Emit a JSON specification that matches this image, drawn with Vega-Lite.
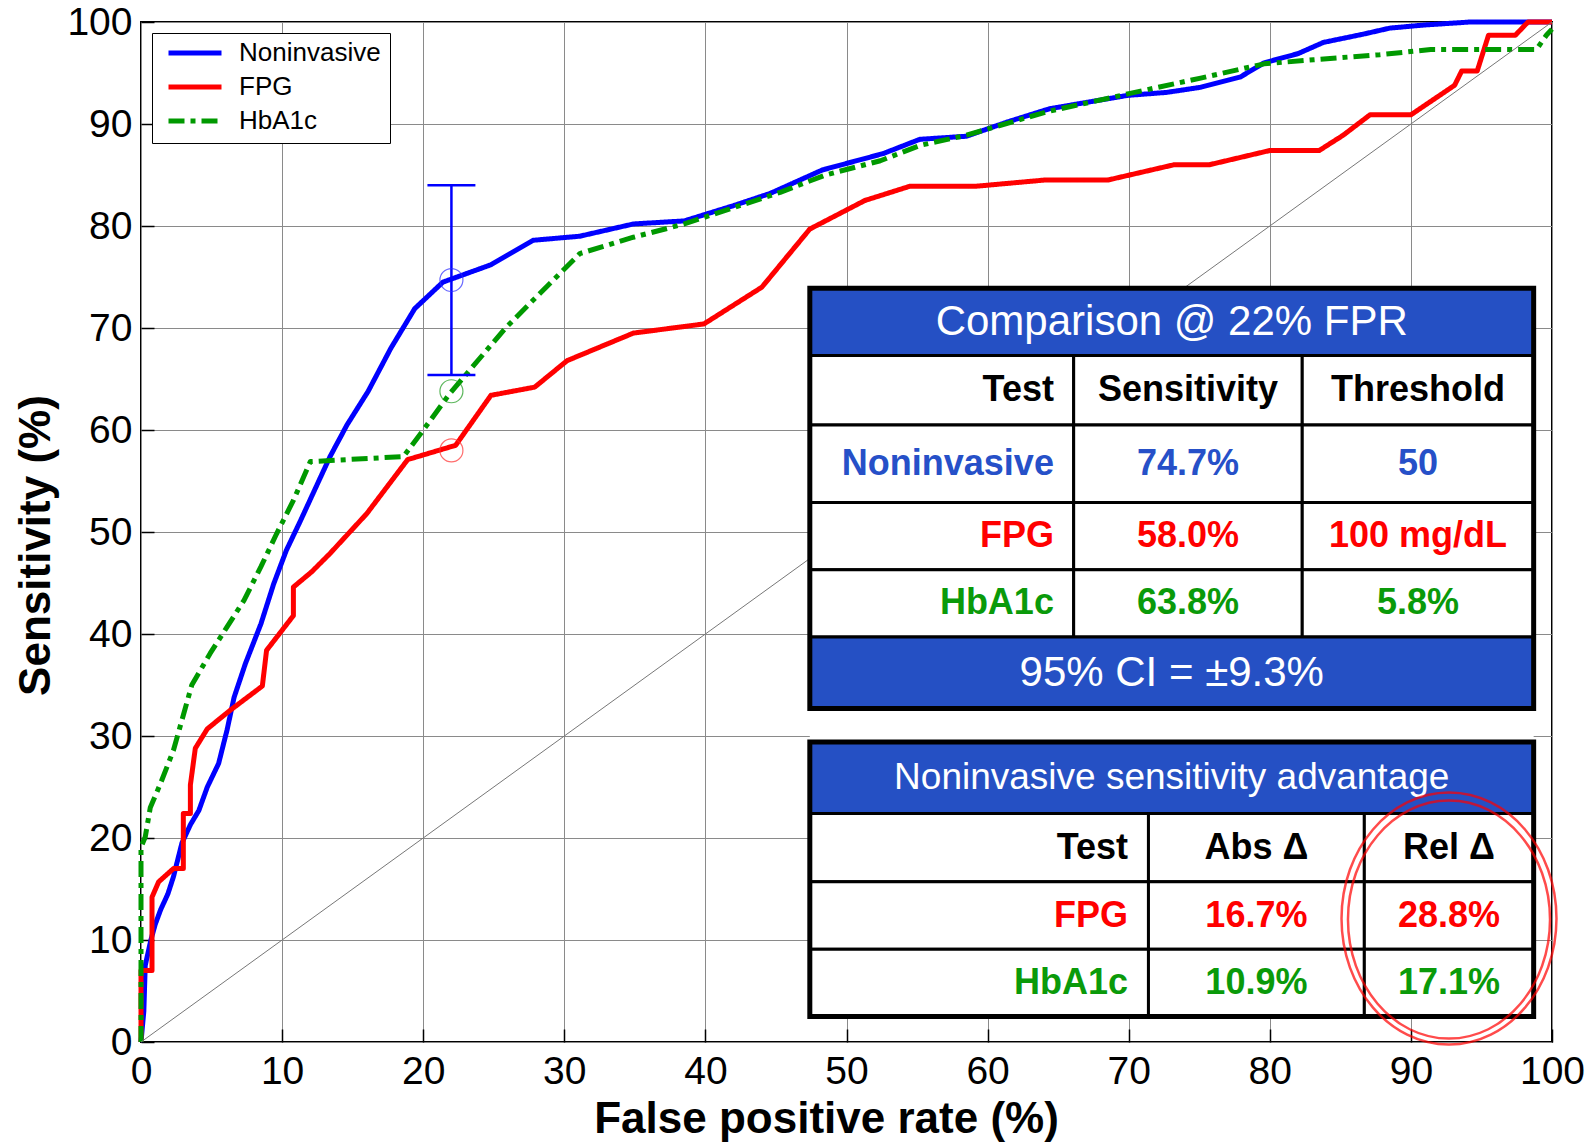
{
 "$schema": "https://vega.github.io/schema/vega-lite/v6.json",
 "width": 1411, "height": 1020,
 "autosize": {"type": "none"},
 "padding": {"left": 141, "top": 22, "right": 41, "bottom": 100},
 "background": "white",
 "config": {
  "font": "Liberation Sans",
  "view": {"stroke": "black", "strokeWidth": 2},
  "axis": {"grid": true, "gridColor": "#8a8a8a", "gridWidth": 1, "gridOpacity": 1, "domain": false, "ticks": true, "tickSize": -13, "tickColor": "black", "tickWidth": 1.5, "labelFontSize": 39, "labelColor": "black", "labelFlush": false, "labelOverlap": false, "titleFontSize": 44, "titleFontWeight": "bold", "titleColor": "black"},
  "axisX": {"labelPadding": 23, "labelDx": 3, "titleX": 685, "titleY": 90, "titleBaseline": "alphabetic"},
  "axisY": {"labelPadding": 22, "titleX": -105, "titleY": 523, "titleBaseline": "middle"}
 },
 "datasets": {
  "roc": [
   {"test":"Noninvasive","i":0,"fpr":0,"sens":0},{"test":"Noninvasive","i":1,"fpr":0.2,"sens":3},{"test":"Noninvasive","i":2,"fpr":0.3,"sens":7.5},{"test":"Noninvasive","i":3,"fpr":0.7,"sens":10},{"test":"Noninvasive","i":4,"fpr":1.0,"sens":11.5},{"test":"Noninvasive","i":5,"fpr":1.4,"sens":13},{"test":"Noninvasive","i":6,"fpr":1.9,"sens":14.5},{"test":"Noninvasive","i":7,"fpr":2.3,"sens":16.2},{"test":"Noninvasive","i":8,"fpr":2.9,"sens":19.5},{"test":"Noninvasive","i":9,"fpr":3.5,"sens":21.3},{"test":"Noninvasive","i":10,"fpr":4.1,"sens":22.7},{"test":"Noninvasive","i":11,"fpr":4.7,"sens":25},{"test":"Noninvasive","i":12,"fpr":5.5,"sens":27.3},{"test":"Noninvasive","i":13,"fpr":6.1,"sens":30.6},{"test":"Noninvasive","i":14,"fpr":6.6,"sens":33.8},{"test":"Noninvasive","i":15,"fpr":7.4,"sens":37.1},{"test":"Noninvasive","i":16,"fpr":8.5,"sens":41},{"test":"Noninvasive","i":17,"fpr":9.4,"sens":44.9},{"test":"Noninvasive","i":18,"fpr":10.3,"sens":48.2},{"test":"Noninvasive","i":19,"fpr":11.3,"sens":51.1},{"test":"Noninvasive","i":20,"fpr":12.5,"sens":54.7},{"test":"Noninvasive","i":21,"fpr":13.4,"sens":57.4},{"test":"Noninvasive","i":22,"fpr":14.6,"sens":60.5},{"test":"Noninvasive","i":23,"fpr":16.1,"sens":63.8},{"test":"Noninvasive","i":24,"fpr":17.7,"sens":68},{"test":"Noninvasive","i":25,"fpr":19.4,"sens":71.9},{"test":"Noninvasive","i":26,"fpr":21.4,"sens":74.5},{"test":"Noninvasive","i":27,"fpr":24.8,"sens":76.2},{"test":"Noninvasive","i":28,"fpr":27.8,"sens":78.6},{"test":"Noninvasive","i":29,"fpr":31.1,"sens":79.0},{"test":"Noninvasive","i":30,"fpr":34.9,"sens":80.2},{"test":"Noninvasive","i":31,"fpr":38.5,"sens":80.5},{"test":"Noninvasive","i":32,"fpr":42.0,"sens":82.0},{"test":"Noninvasive","i":33,"fpr":44.6,"sens":83.2},{"test":"Noninvasive","i":34,"fpr":48.3,"sens":85.5},{"test":"Noninvasive","i":35,"fpr":52.6,"sens":87.1},{"test":"Noninvasive","i":36,"fpr":55.2,"sens":88.5},{"test":"Noninvasive","i":37,"fpr":58.5,"sens":88.8},{"test":"Noninvasive","i":38,"fpr":61.4,"sens":90.2},{"test":"Noninvasive","i":39,"fpr":64.4,"sens":91.5},{"test":"Noninvasive","i":40,"fpr":69.9,"sens":92.8},{"test":"Noninvasive","i":41,"fpr":72.7,"sens":93.1},{"test":"Noninvasive","i":42,"fpr":75.1,"sens":93.6},{"test":"Noninvasive","i":43,"fpr":77.9,"sens":94.6},{"test":"Noninvasive","i":44,"fpr":79.6,"sens":96.0},{"test":"Noninvasive","i":45,"fpr":82.0,"sens":96.9},{"test":"Noninvasive","i":46,"fpr":83.8,"sens":98.0},{"test":"Noninvasive","i":47,"fpr":86.6,"sens":98.8},{"test":"Noninvasive","i":48,"fpr":88.5,"sens":99.4},{"test":"Noninvasive","i":49,"fpr":90.9,"sens":99.7},{"test":"Noninvasive","i":50,"fpr":94.2,"sens":100},{"test":"Noninvasive","i":51,"fpr":100,"sens":100},
   {"test":"FPG","i":0,"fpr":0,"sens":0},{"test":"FPG","i":1,"fpr":0,"sens":7.0},{"test":"FPG","i":2,"fpr":0.78,"sens":7.0},{"test":"FPG","i":3,"fpr":0.78,"sens":14.2},{"test":"FPG","i":4,"fpr":1.25,"sens":15.7},{"test":"FPG","i":5,"fpr":2.3,"sens":17.0},{"test":"FPG","i":6,"fpr":3.0,"sens":17.0},{"test":"FPG","i":7,"fpr":3.0,"sens":22.4},{"test":"FPG","i":8,"fpr":3.5,"sens":22.4},{"test":"FPG","i":9,"fpr":3.5,"sens":25.2},{"test":"FPG","i":10,"fpr":3.85,"sens":28.8},{"test":"FPG","i":11,"fpr":4.7,"sens":30.7},{"test":"FPG","i":12,"fpr":6.3,"sens":32.5},{"test":"FPG","i":13,"fpr":8.6,"sens":34.9},{"test":"FPG","i":14,"fpr":8.9,"sens":38.4},{"test":"FPG","i":15,"fpr":10.8,"sens":41.8},{"test":"FPG","i":16,"fpr":10.8,"sens":44.6},{"test":"FPG","i":17,"fpr":12.1,"sens":46.1},{"test":"FPG","i":18,"fpr":13.4,"sens":47.9},{"test":"FPG","i":19,"fpr":16.0,"sens":51.8},{"test":"FPG","i":20,"fpr":18.9,"sens":57.1},{"test":"FPG","i":21,"fpr":22.3,"sens":58.5},{"test":"FPG","i":22,"fpr":24.8,"sens":63.4},{"test":"FPG","i":23,"fpr":27.9,"sens":64.2},{"test":"FPG","i":24,"fpr":30.2,"sens":66.8},{"test":"FPG","i":25,"fpr":34.9,"sens":69.5},{"test":"FPG","i":26,"fpr":39.9,"sens":70.4},{"test":"FPG","i":27,"fpr":44.0,"sens":74.0},{"test":"FPG","i":28,"fpr":47.4,"sens":79.7},{"test":"FPG","i":29,"fpr":51.3,"sens":82.5},{"test":"FPG","i":30,"fpr":54.5,"sens":83.9},{"test":"FPG","i":31,"fpr":59.2,"sens":83.9},{"test":"FPG","i":32,"fpr":64.0,"sens":84.5},{"test":"FPG","i":33,"fpr":68.5,"sens":84.5},{"test":"FPG","i":34,"fpr":73.2,"sens":86.0},{"test":"FPG","i":35,"fpr":75.7,"sens":86.0},{"test":"FPG","i":36,"fpr":80.0,"sens":87.4},{"test":"FPG","i":37,"fpr":83.5,"sens":87.4},{"test":"FPG","i":38,"fpr":85.2,"sens":88.9},{"test":"FPG","i":39,"fpr":87.1,"sens":90.9},{"test":"FPG","i":40,"fpr":90.0,"sens":90.9},{"test":"FPG","i":41,"fpr":93.1,"sens":93.8},{"test":"FPG","i":42,"fpr":93.6,"sens":95.2},{"test":"FPG","i":43,"fpr":94.7,"sens":95.2},{"test":"FPG","i":44,"fpr":95.5,"sens":98.7},{"test":"FPG","i":45,"fpr":97.4,"sens":98.7},{"test":"FPG","i":46,"fpr":98.3,"sens":100},{"test":"FPG","i":47,"fpr":100,"sens":100},
   {"test":"HbA1c","i":0,"fpr":0,"sens":0},{"test":"HbA1c","i":1,"fpr":0,"sens":19.1},{"test":"HbA1c","i":2,"fpr":0.3,"sens":20.1},{"test":"HbA1c","i":3,"fpr":0.66,"sens":23},{"test":"HbA1c","i":4,"fpr":1.37,"sens":25.3},{"test":"HbA1c","i":5,"fpr":2.3,"sens":28.6},{"test":"HbA1c","i":6,"fpr":3.6,"sens":35},{"test":"HbA1c","i":7,"fpr":4.9,"sens":38.1},{"test":"HbA1c","i":8,"fpr":6.1,"sens":40.7},{"test":"HbA1c","i":9,"fpr":7.3,"sens":43.3},{"test":"HbA1c","i":10,"fpr":8.5,"sens":46.6},{"test":"HbA1c","i":11,"fpr":9.6,"sens":49.8},{"test":"HbA1c","i":12,"fpr":10.8,"sens":53.1},{"test":"HbA1c","i":13,"fpr":12.0,"sens":56.9},{"test":"HbA1c","i":14,"fpr":18.6,"sens":57.4},{"test":"HbA1c","i":15,"fpr":19.8,"sens":59.6},{"test":"HbA1c","i":16,"fpr":21.9,"sens":63.6},{"test":"HbA1c","i":17,"fpr":25.9,"sens":70.1},{"test":"HbA1c","i":18,"fpr":31.1,"sens":77.3},{"test":"HbA1c","i":19,"fpr":34.9,"sens":78.9},{"test":"HbA1c","i":20,"fpr":38.5,"sens":80.2},{"test":"HbA1c","i":21,"fpr":42.0,"sens":81.8},{"test":"HbA1c","i":22,"fpr":45.3,"sens":83.3},{"test":"HbA1c","i":23,"fpr":48.5,"sens":85.0},{"test":"HbA1c","i":24,"fpr":52.4,"sens":86.4},{"test":"HbA1c","i":25,"fpr":55.2,"sens":87.9},{"test":"HbA1c","i":26,"fpr":58.5,"sens":88.9},{"test":"HbA1c","i":27,"fpr":64.2,"sens":91.2},{"test":"HbA1c","i":28,"fpr":70.1,"sens":93.0},{"test":"HbA1c","i":29,"fpr":75.1,"sens":94.5},{"test":"HbA1c","i":30,"fpr":79.6,"sens":95.9},{"test":"HbA1c","i":31,"fpr":83.1,"sens":96.3},{"test":"HbA1c","i":32,"fpr":87.8,"sens":96.8},{"test":"HbA1c","i":33,"fpr":91.4,"sens":97.3},{"test":"HbA1c","i":34,"fpr":98.9,"sens":97.3},{"test":"HbA1c","i":35,"fpr":99.6,"sens":98.7},{"test":"HbA1c","i":36,"fpr":100,"sens":99.3}
  ],
  "diag": [{"d":0},{"d":100}],
  "marks22": [
   {"test":"Noninvasive","fpr":22,"sens":74.7},
   {"test":"FPG","fpr":22,"sens":58.0},
   {"test":"HbA1c","fpr":22,"sens":63.8}
  ],
  "ci": [{"fpr":22,"lo":65.4,"hi":84.0,"c1":20.3,"c2":23.7}],
  "cells": [
   {"kind":"bg","x1":47.4,"x2":98.7,"y1":2.5,"y2":73.9},
   {"kind":"cell","x1":47.4,"x2":66.1,"y1":60.5,"y2":67.3},{"kind":"cell","x1":66.1,"x2":82.3,"y1":60.5,"y2":67.3},{"kind":"cell","x1":82.3,"x2":98.7,"y1":60.5,"y2":67.3},
   {"kind":"cell","x1":47.4,"x2":66.1,"y1":52.9,"y2":60.5},{"kind":"cell","x1":66.1,"x2":82.3,"y1":52.9,"y2":60.5},{"kind":"cell","x1":82.3,"x2":98.7,"y1":52.9,"y2":60.5},
   {"kind":"cell","x1":47.4,"x2":66.1,"y1":46.3,"y2":52.9},{"kind":"cell","x1":66.1,"x2":82.3,"y1":46.3,"y2":52.9},{"kind":"cell","x1":82.3,"x2":98.7,"y1":46.3,"y2":52.9},
   {"kind":"cell","x1":47.4,"x2":66.1,"y1":39.7,"y2":46.3},{"kind":"cell","x1":66.1,"x2":82.3,"y1":39.7,"y2":46.3},{"kind":"cell","x1":82.3,"x2":98.7,"y1":39.7,"y2":46.3},
   {"kind":"cell","x1":47.4,"x2":71.4,"y1":15.7,"y2":22.4},{"kind":"cell","x1":71.4,"x2":86.7,"y1":15.7,"y2":22.4},{"kind":"cell","x1":86.7,"x2":98.7,"y1":15.7,"y2":22.4},
   {"kind":"cell","x1":47.4,"x2":71.4,"y1":9.1,"y2":15.7},{"kind":"cell","x1":71.4,"x2":86.7,"y1":9.1,"y2":15.7},{"kind":"cell","x1":86.7,"x2":98.7,"y1":9.1,"y2":15.7},
   {"kind":"cell","x1":47.4,"x2":71.4,"y1":2.5,"y2":9.1},{"kind":"cell","x1":71.4,"x2":86.7,"y1":2.5,"y2":9.1},{"kind":"cell","x1":86.7,"x2":98.7,"y1":2.5,"y2":9.1},
   {"kind":"band","x1":47.4,"x2":98.7,"y1":67.3,"y2":73.9},
   {"kind":"band","x1":47.4,"x2":98.7,"y1":32.7,"y2":39.7},
   {"kind":"band","x1":47.4,"x2":98.7,"y1":22.4,"y2":29.4},
   {"kind":"border","x1":47.4,"x2":98.7,"y1":32.7,"y2":73.9},
   {"kind":"border","x1":47.4,"x2":98.7,"y1":2.5,"y2":29.4}
  ],
  "labels": [
   {"kind":"title1","tone":"title","x":73.05,"y":70.6,"t":"Comparison @ 22% FPR"},
   {"kind":"title1","tone":"title","x":73.05,"y":36.2,"t":"95% CI = ±9.3%"},
   {"kind":"title2","tone":"title","x":73.05,"y":25.9,"t":"Noninvasive sensitivity advantage"},
   {"kind":"right","tone":"header","x":64.7,"y":63.9,"t":"Test"},
   {"kind":"center","tone":"header","x":74.2,"y":63.9,"t":"Sensitivity"},
   {"kind":"center","tone":"header","x":90.5,"y":63.9,"t":"Threshold"},
   {"kind":"right","tone":"Noninvasive","x":64.7,"y":56.7,"t":"Noninvasive"},
   {"kind":"center","tone":"Noninvasive","x":74.2,"y":56.7,"t":"74.7%"},
   {"kind":"center","tone":"Noninvasive","x":90.5,"y":56.7,"t":"50"},
   {"kind":"right","tone":"FPG","x":64.7,"y":49.6,"t":"FPG"},
   {"kind":"center","tone":"FPG","x":74.2,"y":49.6,"t":"58.0%"},
   {"kind":"center","tone":"FPG","x":90.5,"y":49.6,"t":"100 mg/dL"},
   {"kind":"right","tone":"HbA1c","x":64.7,"y":43.0,"t":"HbA1c"},
   {"kind":"center","tone":"HbA1c","x":74.2,"y":43.0,"t":"63.8%"},
   {"kind":"center","tone":"HbA1c","x":90.5,"y":43.0,"t":"5.8%"},
   {"kind":"right","tone":"header","x":69.95,"y":19.05,"t":"Test"},
   {"kind":"center","tone":"header","x":79.05,"y":19.05,"t":"Abs Δ"},
   {"kind":"center","tone":"header","x":92.7,"y":19.05,"t":"Rel Δ"},
   {"kind":"right","tone":"FPG","x":69.95,"y":12.4,"t":"FPG"},
   {"kind":"center","tone":"FPG","x":79.05,"y":12.4,"t":"16.7%"},
   {"kind":"center","tone":"FPG","x":92.7,"y":12.4,"t":"28.8%"},
   {"kind":"right","tone":"HbA1c","x":69.95,"y":5.8,"t":"HbA1c"},
   {"kind":"center","tone":"HbA1c","x":79.05,"y":5.8,"t":"10.9%"},
   {"kind":"center","tone":"HbA1c","x":92.7,"y":5.8,"t":"17.1%"}
  ],
  "rings": [{"ring":"outer","x":92.7,"y":12.1},{"ring":"inner","x":92.7,"y":12.0}]
 },
 "layer": [
  {
   "data": {"name": "roc"},
   "mark": {"type": "line", "strokeWidth": 5, "strokeJoin": "round", "strokeCap": "butt"},
   "encoding": {
    "x": {"field": "fpr", "type": "quantitative", "scale": {"domain": [0, 100], "nice": false, "zero": false},
      "axis": {"title": "False positive rate (%)", "values": [0,10,20,30,40,50,60,70,80,90,100]}},
    "y": {"field": "sens", "type": "quantitative", "scale": {"domain": [0, 100], "nice": false, "zero": false},
      "axis": {"title": "Sensitivity (%)", "values": [0,10,20,30,40,50,60,70,80,90,100]}},
    "order": {"field": "i", "type": "quantitative"},
    "color": {"field": "test", "type": "nominal",
      "scale": {"domain": ["Noninvasive", "FPG", "HbA1c"], "range": ["#0000FF", "#FF0000", "#009900"]},
      "legend": {"title": null, "orient": "none", "legendX": 11, "legendY": 11, "strokeColor": "black", "fillColor": "white", "padding": 9, "labelFontSize": 26, "labelColor": "black", "labelExpr": "datum.label + '\u00a0\u00a0\u00a0'", "symbolSize": 2809, "symbolStrokeWidth": 5, "symbolType": "stroke", "symbolOffset": 5, "labelOffset": 15, "clipHeight": 22, "rowPadding": 8}},
    "strokeDash": {"field": "test", "type": "nominal",
      "scale": {"domain": ["Noninvasive", "FPG", "HbA1c"], "range": [[1, 0], [1, 0], [16, 6, 5, 6]]},
      "legend": {"title": null, "orient": "none", "legendX": 11, "legendY": 11, "strokeColor": "black", "fillColor": "white", "padding": 9, "labelFontSize": 26, "labelColor": "black", "labelExpr": "datum.label + '\u00a0\u00a0\u00a0'", "symbolSize": 2809, "symbolStrokeWidth": 5, "symbolType": "stroke", "symbolOffset": 5, "labelOffset": 15, "clipHeight": 22, "rowPadding": 8}}
   }
  },
  {
   "data": {"name": "diag"},
   "mark": {"type": "line", "color": "#777777", "strokeWidth": 1},
   "encoding": {
    "x": {"field": "d", "type": "quantitative"},
    "y": {"field": "d", "type": "quantitative"}
   }
  },
  {
   "data": {"name": "ci"},
   "mark": {"type": "rule", "color": "#0000FF", "strokeWidth": 2.5},
   "encoding": {
    "x": {"field": "fpr", "type": "quantitative"},
    "y": {"field": "lo", "type": "quantitative"},
    "y2": {"field": "hi"}
   }
  },
  {
   "data": {"name": "ci"},
   "mark": {"type": "rule", "color": "#0000FF", "strokeWidth": 2.5},
   "encoding": {
    "x": {"field": "c1", "type": "quantitative"},
    "x2": {"field": "c2"},
    "y": {"field": "lo", "type": "quantitative"}
   }
  },
  {
   "data": {"name": "ci"},
   "mark": {"type": "rule", "color": "#0000FF", "strokeWidth": 2.5},
   "encoding": {
    "x": {"field": "c1", "type": "quantitative"},
    "x2": {"field": "c2"},
    "y": {"field": "hi", "type": "quantitative"}
   }
  },
  {
   "data": {"name": "marks22"},
   "mark": {"type": "point", "shape": "circle", "filled": false, "size": 529, "strokeWidth": 1.2},
   "encoding": {
    "x": {"field": "fpr", "type": "quantitative"},
    "y": {"field": "sens", "type": "quantitative"},
    "stroke": {"field": "test", "type": "nominal", "scale": {"domain": ["Noninvasive", "FPG", "HbA1c"], "range": ["#2b2bff", "#ff3030", "#1a9a1a"]}, "legend": null}
   }
  },
  {
   "data": {"name": "cells"},
   "transform": [{"filter": "datum.kind == 'bg'"}],
   "mark": {"type": "rect", "fill": "white", "strokeWidth": 0},
   "encoding": {
    "x": {"field": "x1", "type": "quantitative"}, "x2": {"field": "x2"},
    "y": {"field": "y1", "type": "quantitative"}, "y2": {"field": "y2"}
   }
  },
  {
   "data": {"name": "cells"},
   "transform": [{"filter": "datum.kind == 'cell'"}],
   "mark": {"type": "rect", "fill": "white", "stroke": "black", "strokeWidth": 3},
   "encoding": {
    "x": {"field": "x1", "type": "quantitative"}, "x2": {"field": "x2"},
    "y": {"field": "y1", "type": "quantitative"}, "y2": {"field": "y2"}
   }
  },
  {
   "data": {"name": "cells"},
   "transform": [{"filter": "datum.kind == 'band'"}],
   "mark": {"type": "rect", "fill": "#2550C4", "stroke": "black", "strokeWidth": 3},
   "encoding": {
    "x": {"field": "x1", "type": "quantitative"}, "x2": {"field": "x2"},
    "y": {"field": "y1", "type": "quantitative"}, "y2": {"field": "y2"}
   }
  },
  {
   "data": {"name": "cells"},
   "transform": [{"filter": "datum.kind == 'border'"}],
   "mark": {"type": "rect", "fill": null, "fillOpacity": 0, "stroke": "black", "strokeWidth": 5},
   "encoding": {
    "x": {"field": "x1", "type": "quantitative"}, "x2": {"field": "x2"},
    "y": {"field": "y1", "type": "quantitative"}, "y2": {"field": "y2"}
   }
  },
  {
   "data": {"name": "labels"},
   "transform": [{"filter": "datum.kind == 'title1'"}],
   "mark": {"type": "text", "fontSize": 42, "align": "center", "baseline": "middle"},
   "encoding": {
    "x": {"field": "x", "type": "quantitative"},
    "y": {"field": "y", "type": "quantitative"},
    "text": {"field": "t"},
    "fill": {"field": "tone", "type": "nominal", "scale": {"domain": ["title", "header", "Noninvasive", "FPG", "HbA1c"], "range": ["#ffffff", "#000000", "#2650C8", "#FF0000", "#0A9A0A"]}, "legend": null}
   }
  },
  {
   "data": {"name": "labels"},
   "transform": [{"filter": "datum.kind == 'title2'"}],
   "mark": {"type": "text", "fontSize": 37, "align": "center", "baseline": "middle"},
   "encoding": {
    "x": {"field": "x", "type": "quantitative"},
    "y": {"field": "y", "type": "quantitative"},
    "text": {"field": "t"},
    "fill": {"field": "tone", "type": "nominal", "legend": null}
   }
  },
  {
   "data": {"name": "labels"},
   "transform": [{"filter": "datum.kind == 'right'"}],
   "mark": {"type": "text", "fontSize": 36, "fontWeight": "bold", "align": "right", "baseline": "middle"},
   "encoding": {
    "x": {"field": "x", "type": "quantitative"},
    "y": {"field": "y", "type": "quantitative"},
    "text": {"field": "t"},
    "fill": {"field": "tone", "type": "nominal", "legend": null}
   }
  },
  {
   "data": {"name": "labels"},
   "transform": [{"filter": "datum.kind == 'center'"}],
   "mark": {"type": "text", "fontSize": 36, "fontWeight": "bold", "align": "center", "baseline": "middle"},
   "encoding": {
    "x": {"field": "x", "type": "quantitative"},
    "y": {"field": "y", "type": "quantitative"},
    "text": {"field": "t"},
    "fill": {"field": "tone", "type": "nominal", "legend": null}
   }
  },
  {
   "data": {"name": "rings"},
   "transform": [{"filter": "datum.ring == 'outer'"}],
   "mark": {"type": "point", "filled": false, "shape": "M-0.853,0A0.853,1,0,1,0,0.853,0A0.853,1,0,1,0,-0.853,0Z", "size": 63504, "stroke": "#FF0000", "strokeWidth": 2.5},
   "encoding": {
    "x": {"field": "x", "type": "quantitative"},
    "y": {"field": "y", "type": "quantitative"}
   }
  },
  {
   "data": {"name": "rings"},
   "transform": [{"filter": "datum.ring == 'inner'"}],
   "mark": {"type": "point", "filled": false, "shape": "M-0.849,0A0.849,1,0,1,0,0.849,0A0.849,1,0,1,0,-0.849,0Z", "size": 56644, "stroke": "#FF0000", "strokeWidth": 2.5},
   "encoding": {
    "x": {"field": "x", "type": "quantitative"},
    "y": {"field": "y", "type": "quantitative"}
   }
  }
 ]
}
